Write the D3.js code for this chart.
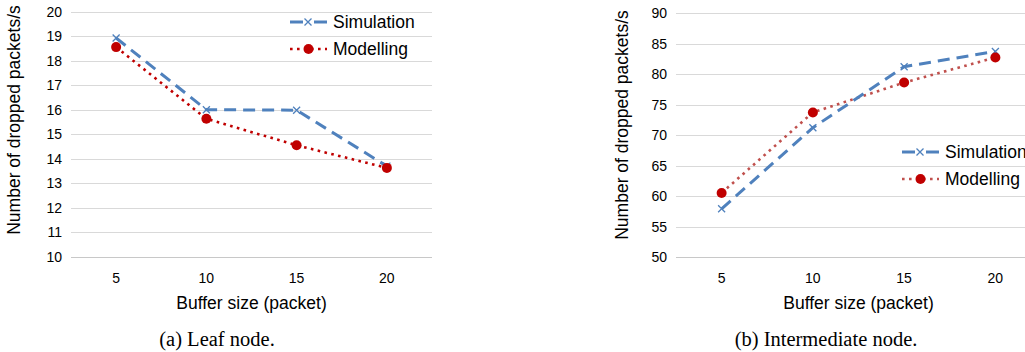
<!DOCTYPE html>
<html><head><meta charset="utf-8">
<script src="https://cdn.jsdelivr.net/npm/d3@7"></script>
<style>
html,body{margin:0;padding:0;background:#fff;}
svg{display:block;}
</style></head>
<body>
<svg id="c" width="1025" height="352"></svg>
<script>
const categories = [5, 10, 15, 20];
const leafSimulation = [18.92, 16.0, 15.98, 13.7];
const leafModelling = [18.55, 15.63, 14.55, 13.63];
const interSimulation = [57.9, 71.2, 81.2, 83.7];
const interModelling = [60.5, 73.7, 78.6, 82.7];
const leafTicks = [10, 11, 12, 13, 14, 15, 16, 17, 18, 19, 20];
const interTicks = [50, 55, 60, 65, 70, 75, 80, 85, 90];
const seriesNames = ["Simulation", "Modelling"];
const yTitle = "Number of dropped packets/s";
const xTitle = "Buffer size (packet)";
const captions = ["(a) Leaf node.", "(b) Intermediate node."];

const svg = d3.select("#c");
const blue = "#4f81bd";
const tickFont = "Liberation Sans, Arial, sans-serif";

function panel(cfg) {
  const g = svg.append("g");
  const x = d3.scalePoint().domain(categories).range([cfg.x0, cfg.x1]).padding(0.5);
  const y = d3.scaleLinear().domain(cfg.domain).range([cfg.yb, cfg.yt]);

  g.selectAll("line.grid").data(cfg.ticks).enter().append("line")
    .attr("x1", cfg.x0).attr("x2", cfg.x1)
    .attr("y1", d => Math.round(y(d)) + 0.5).attr("y2", d => Math.round(y(d)) + 0.5)
    .attr("stroke", (d, i) => i === 0 ? "#c8c8c8" : "#d9d9d9").attr("stroke-width", 1);

  g.selectAll("text.yt").data(cfg.ticks).enter().append("text")
    .attr("x", cfg.x0 - 9).attr("y", d => y(d) + 5)
    .attr("text-anchor", "end").attr("font-family", tickFont).attr("font-size", 14)
    .attr("fill", "#000").text(d => d);

  g.selectAll("text.xt").data(categories).enter().append("text")
    .attr("x", d => x(d)).attr("y", cfg.yb + 26)
    .attr("text-anchor", "middle").attr("font-family", tickFont).attr("font-size", 14)
    .attr("fill", "#000").text(d => d);

  g.append("text").attr("x", (cfg.x0 + cfg.x1) / 2).attr("y", cfg.yb + 52)
    .attr("text-anchor", "middle").attr("font-family", tickFont).attr("font-size", 17.5)
    .text(xTitle);
  g.append("text").attr("transform", `translate(${cfg.ytx},${cfg.yty}) rotate(-90)`)
    .attr("text-anchor", "middle").attr("font-family", tickFont).attr("font-size", 17.5)
    .text(yTitle);
  g.append("text").attr("x", cfg.capx).attr("y", 346)
    .attr("text-anchor", "middle").attr("font-family", "Liberation Serif, Times New Roman, serif")
    .attr("font-size", 20.5).text(cfg.caption);

  const line = d3.line().x((d, i) => x(categories[i])).y(d => y(d));

  g.append("path").datum(cfg.mod).attr("d", line).attr("fill", "none")
    .attr("stroke", cfg.redLine).attr("stroke-width", 2.6).attr("stroke-dasharray", "2.6,4.4");
  g.append("path").datum(cfg.sim).attr("d", line).attr("fill", "none")
    .attr("stroke", blue).attr("stroke-width", 3).attr("stroke-dasharray", "12,7");

  g.selectAll("path.xm").data(cfg.sim).enter().append("path")
    .attr("d", "M-3.5,-3.5L3.5,3.5M-3.5,3.5L3.5,-3.5")
    .attr("transform", (d, i) => `translate(${x(categories[i])},${y(d)})`)
    .attr("stroke", blue).attr("stroke-width", 1.3).attr("fill", "none");
  g.selectAll("circle.m").data(cfg.mod).enter().append("circle")
    .attr("cx", (d, i) => x(categories[i])).attr("cy", d => y(d)).attr("r", 5)
    .attr("fill", "#c00000");

  const lg = g.append("g").attr("transform", `translate(${cfg.lx},${cfg.ly})`);
  const ls = lg.append("g");
  ls.append("line").attr("x1", 0).attr("x2", 13).attr("y1", 0).attr("y2", 0)
    .attr("stroke", blue).attr("stroke-width", 3);
  ls.append("line").attr("x1", 24).attr("x2", 37).attr("y1", 0).attr("y2", 0)
    .attr("stroke", blue).attr("stroke-width", 3);
  ls.append("path").attr("d", "M14.5,-3.5L21.5,3.5M14.5,3.5L21.5,-3.5")
    .attr("stroke", blue).attr("stroke-width", 1.3);
  ls.append("text").attr("x", 43).attr("y", 6).attr("font-family", tickFont)
    .attr("font-size", 17.5).text(seriesNames[0]);
  const lm = lg.append("g").attr("transform", "translate(0,27)");
  lm.append("line").attr("x1", 0).attr("x2", 37).attr("y1", 0).attr("y2", 0)
    .attr("stroke", cfg.redLine).attr("stroke-width", 2.6).attr("stroke-dasharray", "2.6,4.4");
  lm.append("circle").attr("cx", 18.5).attr("cy", 0).attr("r", 5).attr("fill", "#c00000");
  lm.append("text").attr("x", 43).attr("y", 6).attr("font-family", tickFont)
    .attr("font-size", 17.5).text(seriesNames[1]);
}

panel({x0: 71, x1: 432, yt: 11.5, yb: 257, domain: [10, 20], ticks: leafTicks,
  sim: leafSimulation, mod: leafModelling, redLine: "#c00000",
  ytx: 20, yty: 120, capx: 217, caption: captions[0], lx: 290, ly: 22});
panel({x0: 676, x1: 1041, yt: 13, yb: 257, domain: [50, 90], ticks: interTicks,
  sim: interSimulation, mod: interModelling, redLine: "#c0504d",
  ytx: 628, yty: 125, capx: 826, caption: captions[1], lx: 902, ly: 152});
</script>
</body></html>
